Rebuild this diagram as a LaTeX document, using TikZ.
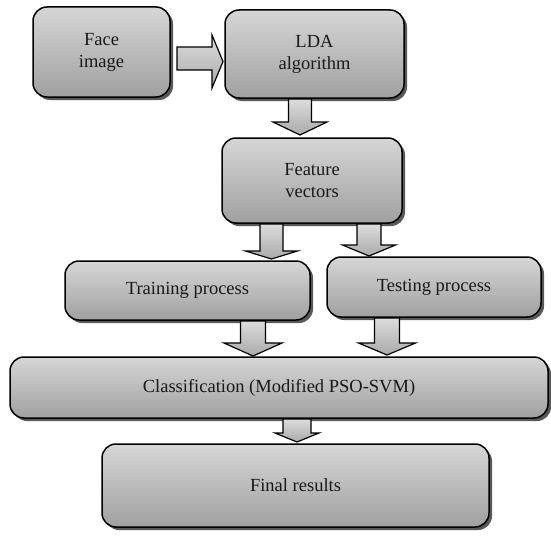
\documentclass[tikz,border=0pt]{standalone}
\usepackage{fontspec}
\setmainfont{Liberation Serif}
\usetikzlibrary{shadows}
\definecolor{boxtop}{RGB}{214,214,214}
\definecolor{boxbot}{RGB}{160,160,160}
\definecolor{arrtop}{RGB}{220,220,220}
\definecolor{arrbot}{RGB}{170,170,170}
\tikzset{
  blk/.style={draw=black, line width=1.5pt, rounded corners=14pt,
    top color=boxtop, bottom color=boxbot, inner sep=0pt,
    align=center, font=\fontsize{18.5}{22}\selectfont, text=black!90,
    drop shadow={shadow xshift=3pt, shadow yshift=-3pt, fill=black!65, opacity=1}},
  barrow/.style={draw=black, line width=1.2pt, line join=miter,
    top color=arrtop, bottom color=arrbot}
}
% down block arrow: #1 centre x, #2 top y, #3 head start y, #4 tip y, #5 shaft half width, #6 head half width
\newcommand\blkdown[6]{%
  \path[barrow] (#1-#5,#2) -- (#1+#5,#2) -- (#1+#5,#3) -- (#1+#6,#3) -- (#1,#4)
    -- (#1-#6,#3) -- (#1-#5,#3) -- cycle;}
\begin{document}
\begin{tikzpicture}[x=1pt,y=-1pt]
\useasboundingbox (0,0) rectangle (551,535);
\node[blk, minimum width=137pt, minimum height=90pt] (face) at (101.5,52) {Face\\image};
\node[blk, minimum width=179pt, minimum height=88pt] (lda) at (314.5,54) {LDA\\algorithm};
\node[blk, minimum width=180pt, minimum height=85pt] (feat) at (312,180.5) {Feature\\vectors};
\node[blk, minimum width=245pt, minimum height=59pt] (train) at (187.5,290.5) {Training process};
\node[blk, minimum width=214pt, minimum height=60pt] (test) at (434,287) {Testing process};
\node[blk, minimum width=538pt, minimum height=61pt] (class) at (279,387.5) {Classification (Modified PSO-SVM)};
\node[blk, minimum width=387pt, minimum height=83pt] (final) at (295.5,485.5) {Final results};
% face -> lda (right arrow)
\path[barrow] (177,47) -- (212,47) -- (212,35) -- (223,61.5) -- (212,88) -- (212,70) -- (177,70) -- cycle;
% lda -> feat
\blkdown{300}{99}{122}{135}{11.5}{27}
% feat -> train
\blkdown{271.5}{224}{251}{259}{11.5}{26}
% feat -> test
\blkdown{369}{224}{245}{256}{12}{26.5}
% train -> class
\blkdown{253}{321}{343}{356}{12.5}{29}
% test -> class
\blkdown{387}{318}{343}{355}{12.5}{28.5}
% class -> final
\blkdown{297}{419}{433}{442}{14}{22}
\end{tikzpicture}
\end{document}
